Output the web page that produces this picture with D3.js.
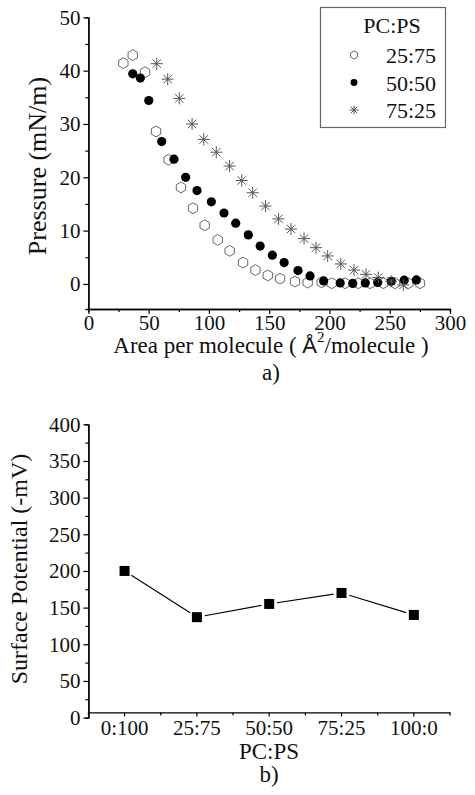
<!DOCTYPE html>
<html><head><meta charset="utf-8">
<script src="https://cdn.jsdelivr.net/npm/d3@7"></script>
<style>
body{margin:0;background:#fff;}
svg{display:block;}
svg text{font-family:"Liberation Serif","Tinos","DejaVu Serif",serif !important;fill:#111;}
svg text .sans{font-family:"Liberation Sans","DejaVu Sans",sans-serif !important;}
</style></head><body>
<svg id="c" width="475" height="795"></svg>
<script>
// ---- Data: panel a) isotherms ----
const area2575 = [29,36.8,47,56.1,66.5,76.8,86.8,96.5,107.3,117.2,128.3,138.6,148.8,159,171.4,181.9,193.6,201.9,212.9,223.9,233.6,244.7,254.4,265.4,275.1];
const press2575 = [41.4,42.9,39.7,28.6,23.3,18.1,14.2,11.0,8.25,6.2,4.0,2.6,1.6,1.0,0.45,0.25,0.3,0.13,0.13,0.13,0.13,0.13,0.13,0.13,0.13];
const area5050 = [36.8,43.1,50.1,60.8,71.0,80.7,90.1,102.0,112.5,122.2,132.7,142.5,152.6,162.4,173.9,183.9,195.2,208.9,219.3,229.7,240.0,251.3,262.0,272.1];
const press5050 = [39.4,38.6,34.4,26.7,23.4,20.0,17.5,15.4,13.3,11.4,9.2,7.1,5.4,4.0,2.5,1.5,0.56,0.19,0.1,0.19,0.28,0.5,0.7,0.75];
const area7525 = [56.7,65.8,75.4,86.0,95.7,106.1,117.1,127.2,136.3,146.9,157.7,168.1,178.9,188.8,198.5,209.4,220.4,230.3,240.5,251.1,261.3];
const press7525 = [41.3,38.4,34.8,30.0,27.1,24.7,22.1,19.4,17.1,14.6,12.2,10.3,8.5,6.8,5.25,3.75,2.6,1.8,1.2,0.5,-0.2];
const seriesNames = ["25:75","50:50","75:25"];
const xTicksA = [0,50,100,150,200,250,300];
const yTicksA = [0,10,20,30,40,50];
// ---- Data: panel b) surface potential ----
const ratios = ["0:100","25:75","50:50","75:25","100:0"];
const potential = [200,137,155,170,140];
const yTicksB = [0,50,100,150,200,250,300,350,400];

const svg = d3.select("#c");
const FONT = 21;

function hexPath(r){
  const pts = d3.range(6).map(i=>{const a=Math.PI/3*i - Math.PI/2; return [r*Math.cos(a), r*Math.sin(a)];});
  return "M"+pts.map(p=>p.join(",")).join("L")+"Z";
}
function starPath(r){
  let d="";
  for(let i=0;i<4;i++){const a=Math.PI/4*i; const dx=r*Math.cos(a), dy=r*Math.sin(a); d+=`M${-dx},${-dy}L${dx},${dy}`;}
  return d;
}
function drawSym(g, kind, x, y, s){
  if(kind===0) g.append("path").attr("d",hexPath(5.4*s)).attr("transform",`translate(${x},${y})`).attr("fill","none").attr("stroke","#666").attr("stroke-width",1);
  else if(kind===1) g.append("circle").attr("cx",x).attr("cy",y).attr("r",4.6*s).attr("fill","#000");
  else g.append("path").attr("d",starPath(6*s)).attr("transform",`translate(${x},${y})`).attr("fill","none").attr("stroke","#555").attr("stroke-width",1);
}
function styleAxis(g){
  g.attr("font-family",null).attr("font-size",null);
  g.selectAll(".domain").attr("stroke","#000").attr("stroke-width",1.3);
  g.selectAll(".tick line").attr("stroke","#000").attr("stroke-width",1.2);
  g.selectAll(".tick text").attr("font-size",FONT).attr("fill","#111");
}

// ===== Panel a =====
const xA = d3.scaleLinear().domain([0,300]).range([88.4,450]);
const yA = d3.scaleLinear().domain([-4.7,50]).range([309,17.3]);
const gA = svg.append("g");
gA.append("g").attr("transform","translate(0,309)").call(d3.axisBottom(xA).tickValues(d3.range(25,300,50)).tickSize(3).tickFormat("")).call(styleAxis);
gA.append("g").attr("transform","translate(88.4,0)").call(d3.axisLeft(yA).tickValues(d3.range(5,50,10)).tickSize(3).tickFormat("")).call(styleAxis);
gA.append("g").attr("transform","translate(0,309)").call(d3.axisBottom(xA).tickValues(xTicksA).tickSize(5).tickSizeOuter(0).tickPadding(1)).call(styleAxis);
gA.append("g").attr("transform","translate(88.4,0)").call(d3.axisLeft(yA).tickValues(yTicksA).tickSize(5).tickSizeOuter(0).tickPadding(3)).call(styleAxis);

const sets = [[area2575,press2575],[area5050,press5050],[area7525,press7525]];
sets.forEach((s,k)=>{
  const g = gA.append("g");
  s[0].forEach((a,i)=>drawSym(g,k,xA(a),yA(s[1][i]),1));
});

// axis titles
const xt = gA.append("text").attr("x",271).attr("y",353).attr("text-anchor","middle").attr("font-size",23);
xt.append("tspan").text("Area per molecule ( ");
xt.append("tspan").attr("class","sans").attr("font-size",22).text("Å");
xt.append("tspan").attr("font-size",15).attr("dy",-11).text("2");
xt.append("tspan").attr("dy",11).text("/molecule )");
gA.append("text").attr("x",271).attr("y",380).attr("text-anchor","middle").attr("font-size",23).text("a)");
gA.append("text").attr("transform","translate(46,166) rotate(-90)").attr("text-anchor","middle").attr("font-size",26).text("Pressure (mN/m)");

// legend
const lg = gA.append("g");
lg.append("rect").attr("x",320.5).attr("y",7.5).attr("width",125).attr("height",120).attr("fill","#fff").attr("stroke","#666").attr("stroke-width",1.2);
lg.append("text").attr("x",392).attr("y",33).attr("text-anchor","middle").attr("font-size",22).text("PC:PS");
seriesNames.forEach((n,k)=>{
  const yy = 55 + k*27.5;
  drawSym(lg,k,354,yy,0.75);
  lg.append("text").attr("x",386).attr("y",yy+8).attr("font-size",22).text(n);
});

// ===== Panel b =====
const xB = d3.scaleBand().domain(ratios).range([88.4,450]).padding(0);
const yB = d3.scaleLinear().domain([0,400]).range([717.6,424.3]);
const xAxisY = yB(7);
const gB = svg.append("g");
gB.append("g").attr("transform","translate(88.4,0)").call(d3.axisLeft(yB).tickValues(d3.range(25,400,50)).tickSize(3).tickFormat("")).call(styleAxis);
gB.append("g").attr("transform","translate(88.4,0)").call(d3.axisLeft(yB).tickValues(yTicksB).tickSize(5).tickSizeOuter(0).tickPadding(3)).call(styleAxis);
gB.append("g").attr("transform",`translate(0,${xAxisY})`).call(d3.axisBottom(xB).tickSize(4).tickSizeOuter(0).tickPadding(4)).call(styleAxis);
const bounds = ratios.map(r=>xB(r)).concat([xB(ratios[ratios.length-1])+xB.bandwidth()]);
gB.selectAll(".minor").data(bounds).enter().append("line")
  .attr("x1",d=>d).attr("x2",d=>d).attr("y1",xAxisY).attr("y2",xAxisY+3).attr("stroke","#000").attr("stroke-width",1.2);

const ptsB = ratios.map((r,i)=>[xB(r)+xB.bandwidth()/2, yB(potential[i])]);
const gap = 8;
for(let i=0;i<ptsB.length-1;i++){
  const [x1,y1]=ptsB[i],[x2,y2]=ptsB[i+1];
  const L=Math.hypot(x2-x1,y2-y1), ux=(x2-x1)/L, uy=(y2-y1)/L;
  gB.append("line").attr("x1",x1+ux*gap).attr("y1",y1+uy*gap).attr("x2",x2-ux*gap).attr("y2",y2-uy*gap).attr("stroke","#000").attr("stroke-width",1.1);
}
gB.selectAll(".sq").data(ptsB).enter().append("rect")
  .attr("x",d=>d[0]-5).attr("y",d=>d[1]-5).attr("width",10).attr("height",10).attr("fill","#000");

gB.append("text").attr("x",269).attr("y",759).attr("text-anchor","middle").attr("font-size",23).text("PC:PS");
gB.append("text").attr("x",269).attr("y",782).attr("text-anchor","middle").attr("font-size",23).text("b)");
gB.append("text").attr("transform","translate(27,569) rotate(-90)").attr("text-anchor","middle").attr("font-size",24).text("Surface Potential (-mV)");
</script>
</body></html>
